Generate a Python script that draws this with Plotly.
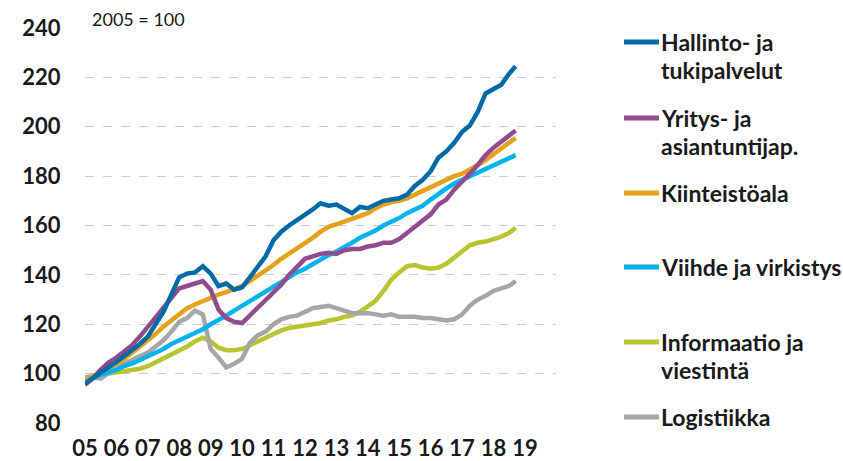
import plotly.graph_objects as go

# ---- data (quarterly readings, index 2005 = 100) ----
DATES = [f"{y}-{m:02d}-01" for y in range(2005, 2019) for m in (1, 4, 7, 10)][:-1] + ["2018-09-15"]

hallinto = [96, 98, 100.5, 102.5, 104.7, 107, 109.5, 112, 115, 120,
            125, 132, 139, 140.5, 141, 143.5, 140.5, 135.5, 136.5, 134,
            135, 139, 143.5, 147.5, 154, 157.5, 160, 162, 164, 166.5,
            169, 168, 168.5, 166.5, 165, 167.5, 167, 168.5, 170, 170.5,
            171, 172.5, 176, 178.5, 182, 187.5, 190, 193.5, 198, 200.5,
            206, 213.5, 215.5, 217, 221.5, 224.5]
yritys = [95.5, 98, 101.5, 104.5, 106.5, 109, 111.5, 115, 119, 123,
          127, 131, 134.5, 135.5, 136.5, 137.5, 134, 126, 122.5, 121,
          120.5, 123.5, 126.5, 129.5, 132.5, 136, 140, 143.5, 146.5, 147.5,
          148.5, 149, 148.5, 150, 150.5, 150.5, 151.5, 152, 153, 153,
          154.5, 157, 159.5, 161.5, 164.5, 168.5, 170.5, 174.5, 177.5, 181,
          184.5, 188.5, 191.5, 194, 196.5, 198.5]
kiinteisto = [97, 99, 100.5, 102.5, 104, 106, 108.5, 110.5, 113, 116,
              119, 121.5, 124.5, 126.5, 128, 129.5, 131, 132, 133, 134.5,
              135.5, 137.5, 139.5, 141.5, 144, 146.5, 148.5, 150.5, 152.5, 155,
              157.5, 159.5, 160.5, 161.5, 162.5, 163.5, 165, 167, 168.5, 169.5,
              170, 171, 172.5, 174, 175.5, 177, 178.5, 180, 181, 183,
              184.5, 186.5, 189, 191, 193.5, 195.5]
viihde = [96.5, 98, 99.5, 100.5, 101.5, 103, 104, 105.5, 107, 108.5,
          110, 112, 113.5, 115, 116.5, 118, 120, 121.5, 123.5, 125.5,
          127.5, 129.5, 131.5, 133.5, 135.5, 137, 139, 141, 142.5, 144.5,
          146, 148, 149.5, 151.5, 153, 155, 156.5, 158, 160, 161.5,
          163, 165, 166.5, 168, 170.5, 173, 175, 177, 178.5, 180,
          181.5, 183, 184.5, 186, 187, 188.5]
informaatio = [98.5, 99, 99.5, 100, 100.5, 101, 101.5, 102, 103, 104.5,
               106, 107.5, 109, 111, 113, 114.5, 113, 110.5, 109.5, 109.5,
               110, 111.5, 113, 114.5, 116, 117.5, 118.5, 119, 119.5, 120,
               120.5, 121.5, 122, 123, 123.5, 125, 127.5, 129.5, 133.5, 138,
               141, 143.5, 144, 143, 142.5, 143, 144.5, 147, 150, 152,
               153, 153.5, 154.5, 155.5, 157, 159]
logistiikka = [98.5, 98.5, 98, 100.5, 102.5, 104, 105.5, 107, 108.5, 111,
               113.5, 117, 121, 122.5, 125.5, 124, 110, 106.5, 102.5, 104,
               106, 112.5, 115.5, 117, 120, 122, 123, 123.5, 125, 126.5,
               127, 127.5, 126.5, 125.5, 124.5, 124.5, 124.5, 124, 123.5, 124,
               123, 123, 123, 122.5, 122.5, 122, 121.5, 122, 124, 127.5,
               130, 131.5, 133.5, 134.5, 135.5, 137.5]

SERIES = [
    (["Hallinto- ja", "tukipalvelut"], hallinto, "#006AA7"),
    (["Yritys- ja", "asiantuntijap."], yritys, "#924C8E"),
    (["Kiinteistöala"], kiinteisto, "#E5A11A"),
    (["Viihde ja virkistys"], viihde, "#00B2EE"),
    (["Informaatio ja", "viestintä"], informaatio, "#B8C531"),
    (["Logistiikka"], logistiikka, "#A6A6A6"),
]
# draw order (back to front) roughly as in reference
DRAW_ORDER = [4, 5, 3, 2, 1, 0]

W, H = 843, 461
L, R, T, B = 85, 287, 28, 38
PW, PH = W - L - R, H - T - B


def px_x(px):
    return (px - L) / PW


def px_y(py):
    return (H - B - py) / PH


FONT = "Lato"
TXT = "#1a1a1a"

fig = go.Figure()
for i in DRAW_ORDER:
    name, vals, col = SERIES[i]
    fig.add_trace(go.Scatter(x=DATES, y=vals, mode="lines", name=" ".join(name),
                             line=dict(color=col, width=4.5), hoverinfo="skip"))

# legend (manual)
legend_y = [42, 118, 193, 267, 342, 417]
line_gap = 28
shapes = []
annotations = []
for (name, vals, col), ly in zip(SERIES, legend_y):
    shapes.append(dict(type="line", xref="paper", yref="paper",
                       x0=px_x(624), x1=px_x(659), y0=px_y(ly), y1=px_y(ly),
                       line=dict(color=col, width=5)))
    for k, part in enumerate(name):
        annotations.append(dict(text=part, xref="paper", yref="paper",
                                x=px_x(659), y=px_y(ly + k * line_gap),
                                xanchor="left", yanchor="middle", showarrow=False,
                                font=dict(family=FONT, size=23, color=TXT, weight=700)))

annotations.append(dict(text="2005 = 100", xref="paper", yref="paper",
                        x=px_x(90), y=px_y(19), xanchor="left", yanchor="middle",
                        showarrow=False, font=dict(family=FONT, size=18, color=TXT)))

fig.update_layout(
    width=W, height=H,
    margin=dict(l=L, r=R, t=T, b=B, autoexpand=False),
    plot_bgcolor="white", paper_bgcolor="white",
    showlegend=False,
    shapes=shapes, annotations=annotations,
    xaxis=dict(type="date", range=["2005-01-01", "2019-12-28"],
               tick0="2005-01-01", dtick="M12", tickformat="%y",
               showgrid=False, zeroline=False, showline=False, automargin=False,
               ticks="outside", ticklen=6, tickcolor="rgba(0,0,0,0)",
               tickfont=dict(family=FONT, size=22, color=TXT, weight=700)),
    yaxis=dict(range=[80, 240], dtick=20, tick0=80,
               showgrid=True, gridcolor="#CCCCCC", gridwidth=1, griddash="dash",
               zeroline=False, showline=False, automargin=False,
               ticks="outside", ticklen=19, tickcolor="rgba(0,0,0,0)",
               tickfont=dict(family=FONT, size=22, color=TXT, weight=700)),
)

fig.write_html("out.html", config={"displayModeBar": False},
               post_script="document.body.style.margin='0';")
